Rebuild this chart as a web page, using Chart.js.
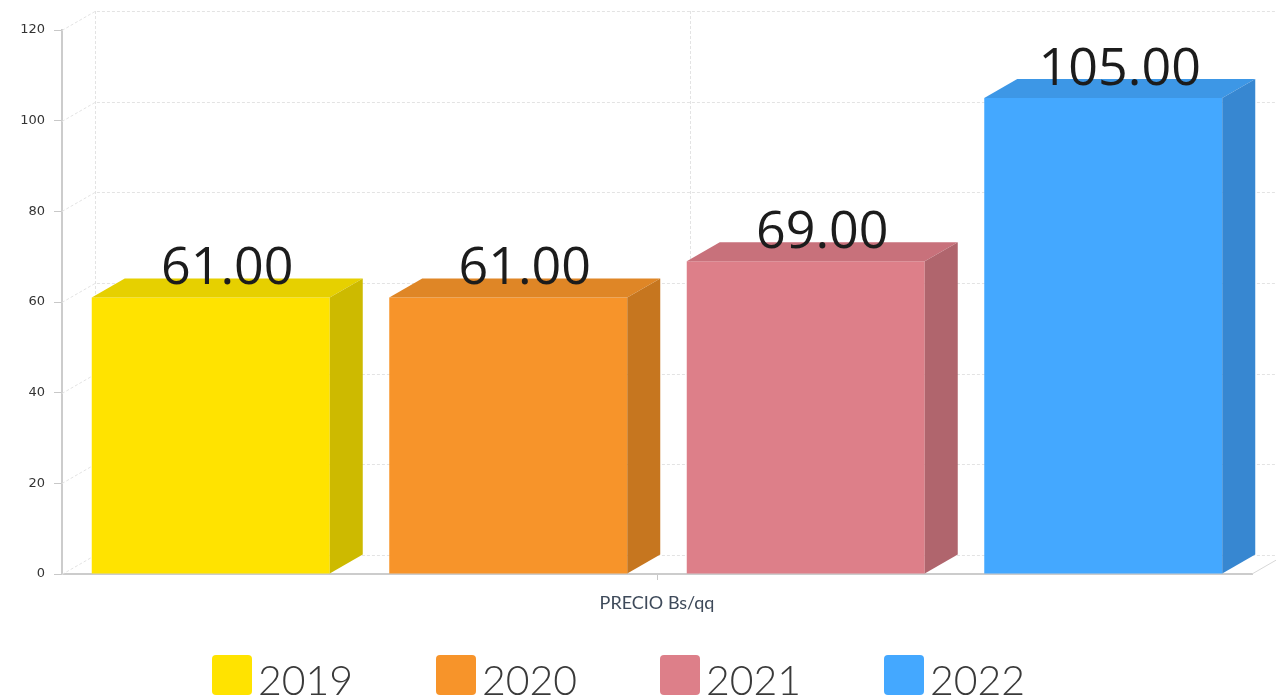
<!DOCTYPE html>
<html>
<head>
<meta charset="utf-8">
<script src="https://cdn.jsdelivr.net/npm/chart.js@4/dist/chart.umd.min.js"></script>
<style>
  html, body { margin: 0; padding: 0; background: #fff; }
  #wrap { width: 1276px; height: 696px; position: relative; }
</style>
</head>
<body>
<div id="wrap"><canvas id="precioChart"></canvas></div>
<script>
// chart data
const categories = ['PRECIO Bs/qq'];
const years = ['2019', '2020', '2021', '2022'];
const prices = [61, 61, 69, 105];
const yTicks = [0, 20, 40, 60, 80, 100, 120];

// bar face colours (front / top / side)
const frontColors = ['#ffe300', '#f7942a', '#dd7f89', '#44a8ff'];
const topColors = ['#e6d000', '#df8626', '#c8717b', '#3d97e6'];
const sideColors = ['#cdba00', '#c6761f', '#b0656d', '#3787d1'];

// 3D depth offsets
const DX = 33, DY = -19;

const threeD = {
    id: 'threeD',
    beforeDatasetsDraw(chart) {
        const ctx = chart.ctx;
        const area = chart.chartArea;
        const yScale = chart.scales.y;
        const xScale = chart.scales.x;
        ctx.save();
        ctx.strokeStyle = '#e3e3e3';
        ctx.lineWidth = 1;
        ctx.setLineDash([3, 2]);
        yScale.ticks.forEach(t => {
            const py = Math.round(yScale.getPixelForValue(t.value)) + 0.5;
            ctx.beginPath();
            ctx.moveTo(area.left, py);
            ctx.lineTo(area.left + DX, py + DY);
            ctx.lineTo(area.right + DX, py + DY);
            ctx.stroke();
        });
        // back wall verticals
        const verts = [area.left + DX];
        categories.forEach((c, i) => verts.push(xScale.getPixelForValue(i) + DX));
        verts.forEach(vx => {
            ctx.beginPath();
            ctx.moveTo(Math.round(vx) + 0.5, area.top + DY);
            ctx.lineTo(Math.round(vx) + 0.5, area.bottom + DY);
            ctx.stroke();
        });
        // floor right edge
        ctx.setLineDash([]);
        ctx.strokeStyle = '#d8d8d8';
        ctx.beginPath();
        ctx.moveTo(area.right, area.bottom);
        ctx.lineTo(area.right + DX, area.bottom + DY);
        ctx.stroke();
        ctx.restore();
    },
    afterDatasetsDraw(chart) {
        const ctx = chart.ctx;
        ctx.save();
        chart.data.datasets.forEach((ds, i) => {
            const meta = chart.getDatasetMeta(i);
            meta.data.forEach((bar, j) => {
                const p = bar.getProps(['x', 'y', 'base', 'width'], true);
                const l = p.x - p.width / 2, r = p.x + p.width / 2;
                // top face
                ctx.fillStyle = topColors[i];
                ctx.beginPath();
                ctx.moveTo(l, p.y);
                ctx.lineTo(r, p.y);
                ctx.lineTo(r + DX, p.y + DY);
                ctx.lineTo(l + DX, p.y + DY);
                ctx.closePath();
                ctx.fill();
                // side face
                ctx.fillStyle = sideColors[i];
                ctx.beginPath();
                ctx.moveTo(r, p.y);
                ctx.lineTo(r + DX, p.y + DY);
                ctx.lineTo(r + DX, p.base + DY);
                ctx.lineTo(r, p.base);
                ctx.closePath();
                ctx.fill();
                // value label
                ctx.fillStyle = '#1c1c1c';
                ctx.font = '52px "Open Sans"';
                ctx.textAlign = 'center';
                ctx.textBaseline = 'alphabetic';
                ctx.fillText(ds.data[j].toFixed(2), p.x + DX / 2, p.y + DY + 6);
            });
        });
        ctx.restore();
    },
    afterDraw(chart) {
        // legend
        const ctx = chart.ctx;
        ctx.save();
        ctx.font = '300 41px Lato';
        ctx.textBaseline = 'alphabetic';
        ctx.textAlign = 'left';
        let lx = 212;
        const ly = 655;
        chart.data.datasets.forEach((ds, i) => {
            ctx.fillStyle = ds.backgroundColor;
            ctx.beginPath();
            ctx.roundRect(lx, ly, 40, 40, 4);
            ctx.fill();
            ctx.fillStyle = '#3a3a3a';
            ctx.fillText(ds.label, lx + 46, ly + 40);
            lx += 224;
        });
        ctx.restore();
    }
};

const datasets = years.map((y, i) => ({
    label: y,
    data: [prices[i]],
    backgroundColor: frontColors[i],
    borderWidth: 0
}));

new Chart(document.getElementById('precioChart'), {
    type: 'bar',
    data: { labels: categories, datasets: datasets },
    plugins: [threeD],
    options: {
        responsive: true,
        maintainAspectRatio: false,
        animation: false,
        layout: { padding: { top: 30, right: 24, bottom: 72, left: 0 } },
        datasets: { bar: { categoryPercentage: 1, barPercentage: 0.8 } },
        plugins: { legend: { display: false }, tooltip: { enabled: false } },
        scales: {
            x: {
                afterFit: s => { s.height = 50; },
                grid: { offset: false, drawOnChartArea: false, tickLength: 6, tickColor: '#c8c8c8' },
                border: { color: '#cccccc', width: 2 },
                ticks: { padding: 12, color: '#3e4a5a', font: { family: 'Lato', size: 18 } }
            },
            y: {
                min: 0,
                max: 120,
                afterFit: s => { s.width = 62; },
                afterBuildTicks: s => { s.ticks = yTicks.map(v => ({ value: v })); },
                grid: { drawOnChartArea: false, tickLength: 8, tickColor: '#c8c8c8' },
                border: { color: '#cccccc', width: 2 },
                ticks: { padding: 9, color: '#333333', font: { family: 'DejaVu Sans', size: 13 } }
            }
        }
    }
});
</script>
</body>
</html>
